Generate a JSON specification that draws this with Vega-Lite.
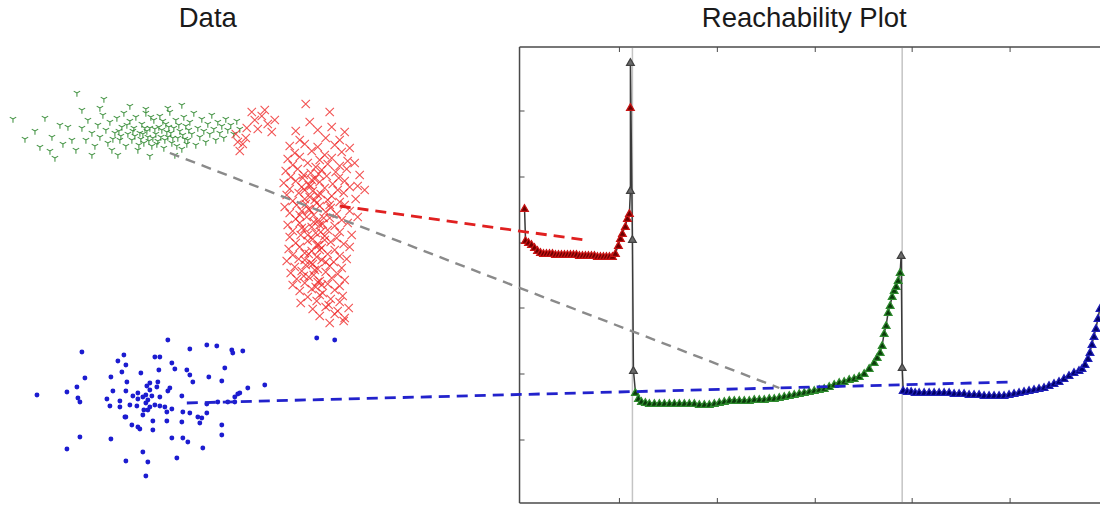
{
"$schema": "https://vega.github.io/schema/vega-lite/v6.json",
"width": 1101, "height": 506, "padding": 0,
"autosize": {"type": "fit", "contains": "padding"},
"config": {"view": {"stroke": null}},
"datasets": {
"frame": [{"x":520,"y":47,"x2":520,"y2":503},{"x":520,"y":47,"x2":1101,"y2":47},{"x":520,"y":503,"x2":1101,"y2":503}],
"ticks": [{"x":520,"y":111,"x2":525,"y2":111},{"x":520,"y":177,"x2":525,"y2":177},{"x":520,"y":243,"x2":525,"y2":243},{"x":520,"y":308,"x2":525,"y2":308},{"x":520,"y":374,"x2":525,"y2":374},{"x":520,"y":440,"x2":525,"y2":440},
{"x":620,"y":503,"x2":620,"y2":498},{"x":718,"y":503,"x2":718,"y2":498},{"x":816,"y":503,"x2":816,"y2":498},{"x":913,"y":503,"x2":913,"y2":498},{"x":1011,"y":503,"x2":1011,"y2":498},
{"x":620,"y":47,"x2":620,"y2":52},{"x":718,"y":47,"x2":718,"y2":52},{"x":816,"y":47,"x2":816,"y2":52},{"x":913,"y":47,"x2":913,"y2":52},{"x":1011,"y":47,"x2":1011,"y2":52}],
"vlines": [{"x":633,"y":48,"y2":502},{"x":903,"y":48,"y2":502}],
"green": [
{"x":82,"y":128},{"x":86,"y":140},{"x":88,"y":120},{"x":92,"y":133},{"x":95,"y":146},{"x":98,"y":125},{"x":100,"y":137},{"x":103,"y":115},{"x":106,"y":130},{"x":108,"y":143},{"x":110,"y":122},{"x":112,"y":150},{"x":115,"y":133},{"x":117,"y":118},{"x":120,"y":140},{"x":122,"y":127},{"x":124,"y":113},{"x":126,"y":146},{"x":128,"y":134},{"x":130,"y":121},{"x":132,"y":140},{"x":134,"y":128},{"x":136,"y":117},{"x":138,"y":150},{"x":140,"y":133},{"x":142,"y":124},{"x":144,"y":143},{"x":146,"y":113},{"x":148,"y":137},{"x":150,"y":128},{"x":152,"y":146},{"x":154,"y":120},{"x":156,"y":134},{"x":158,"y":141},{"x":160,"y":116},{"x":162,"y":130},{"x":164,"y":148},{"x":166,"y":124},{"x":168,"y":137},{"x":170,"y":112},{"x":172,"y":143},{"x":174,"y":128},{"x":176,"y":120},{"x":178,"y":138},{"x":180,"y":131},{"x":182,"y":149},{"x":184,"y":117},{"x":186,"y":126},{"x":188,"y":140},{"x":190,"y":122},{"x":192,"y":134},{"x":194,"y":113},{"x":196,"y":145},{"x":198,"y":128},{"x":200,"y":137},{"x":202,"y":119},{"x":204,"y":131},{"x":206,"y":142},{"x":208,"y":124},{"x":210,"y":134},{"x":212,"y":115},{"x":214,"y":129},{"x":216,"y":140},{"x":218,"y":122},{"x":220,"y":133},{"x":222,"y":126},{"x":224,"y":138},{"x":226,"y":119},{"x":228,"y":130},{"x":231,"y":125},{"x":234,"y":134},{"x":237,"y":121},{"x":240,"y":129},
{"x":135,"y":136},{"x":141,"y":139},{"x":147,"y":131},{"x":153,"y":138},{"x":159,"y":127},{"x":165,"y":140},{"x":171,"y":133},{"x":177,"y":146},{"x":183,"y":135},{"x":189,"y":130},{"x":145,"y":128},{"x":157,"y":144},{"x":163,"y":121},{"x":127,"y":125},{"x":119,"y":131},{"x":113,"y":139},{"x":139,"y":145},{"x":151,"y":117},{"x":169,"y":127},{"x":187,"y":144},
{"x":143,"y":134},{"x":149,"y":141},{"x":155,"y":129},{"x":161,"y":137},{"x":167,"y":132},{"x":173,"y":138},{"x":179,"y":125},{"x":185,"y":139},{"x":133,"y":131},{"x":121,"y":136},
{"x":13,"y":119},{"x":25,"y":139},{"x":35,"y":131},{"x":40,"y":147},{"x":45,"y":118},{"x":52,"y":137},{"x":50,"y":151},{"x":55,"y":158},{"x":60,"y":125},{"x":63,"y":144},{"x":68,"y":127},{"x":72,"y":140},{"x":77,"y":93},{"x":82,"y":110},{"x":100,"y":108},{"x":104,"y":99},{"x":130,"y":106},{"x":146,"y":109},{"x":168,"y":108},{"x":182,"y":105},{"x":76,"y":150},{"x":92,"y":155},{"x":118,"y":155},{"x":150,"y":156},{"x":175,"y":155}
],
"red": [
{"x":236,"y":134},{"x":240,"y":151},{"x":243,"y":144},{"x":247,"y":128},{"x":255,"y":120},{"x":258,"y":129},{"x":265,"y":110},{"x":268,"y":124},{"x":275,"y":120},{"x":262,"y":116},{"x":272,"y":132},{"x":238,"y":142},{"x":246,"y":138},{"x":252,"y":112},
{"x":306,"y":104},{"x":330,"y":112},{"x":332,"y":127},{"x":310,"y":122},{"x":318,"y":130},{"x":300,"y":140},{"x":326,"y":138},{"x":340,"y":140},{"x":296,"y":131},{"x":345,"y":132},
{"x":290,"y":146},{"x":305,"y":144},{"x":318,"y":147},{"x":335,"y":145},{"x":350,"y":148},
{"x":295,"y":153},{"x":312,"y":151},{"x":325,"y":155},{"x":342,"y":152},
{"x":288,"y":159},{"x":300,"y":157},{"x":320,"y":160},{"x":332,"y":158},{"x":348,"y":161},
{"x":293,"y":165},{"x":308,"y":163},{"x":316,"y":167},{"x":328,"y":164},{"x":340,"y":166},{"x":355,"y":163},
{"x":286,"y":171},{"x":298,"y":169},{"x":311,"y":173},{"x":322,"y":170},{"x":336,"y":172},{"x":347,"y":169},
{"x":291,"y":177},{"x":304,"y":175},{"x":315,"y":179},{"x":327,"y":176},{"x":339,"y":178},{"x":360,"y":175},
{"x":284,"y":183},{"x":296,"y":181},{"x":309,"y":185},{"x":320,"y":182},{"x":333,"y":184},{"x":345,"y":181},{"x":358,"y":186},
{"x":290,"y":189},{"x":302,"y":187},{"x":313,"y":191},{"x":325,"y":188},{"x":338,"y":190},{"x":350,"y":187},{"x":365,"y":190},
{"x":287,"y":195},{"x":299,"y":193},{"x":310,"y":197},{"x":321,"y":194},{"x":332,"y":196},{"x":344,"y":193},
{"x":293,"y":201},{"x":305,"y":199},{"x":317,"y":203},{"x":328,"y":200},{"x":340,"y":202},{"x":356,"y":199},
{"x":285,"y":207},{"x":297,"y":205},{"x":309,"y":209},{"x":320,"y":206},{"x":331,"y":208},{"x":345,"y":205},
{"x":290,"y":213},{"x":302,"y":211},{"x":314,"y":215},{"x":326,"y":212},{"x":337,"y":214},{"x":350,"y":211},
{"x":296,"y":219},{"x":307,"y":217},{"x":318,"y":221},{"x":330,"y":218},{"x":342,"y":220},{"x":358,"y":217},
{"x":288,"y":225},{"x":300,"y":223},{"x":312,"y":227},{"x":323,"y":224},{"x":335,"y":226},{"x":348,"y":223},
{"x":293,"y":231},{"x":305,"y":229},{"x":316,"y":233},{"x":328,"y":230},{"x":340,"y":232},
{"x":290,"y":237},{"x":301,"y":235},{"x":313,"y":239},{"x":325,"y":236},{"x":337,"y":238},{"x":352,"y":235},
{"x":296,"y":243},{"x":308,"y":241},{"x":319,"y":245},{"x":331,"y":242},{"x":344,"y":244},
{"x":289,"y":249},{"x":300,"y":247},{"x":312,"y":251},{"x":322,"y":248},{"x":335,"y":250},{"x":350,"y":247},
{"x":293,"y":255},{"x":305,"y":253},{"x":317,"y":257},{"x":328,"y":254},{"x":340,"y":256},
{"x":287,"y":261},{"x":299,"y":259},{"x":311,"y":263},{"x":322,"y":260},{"x":334,"y":262},{"x":347,"y":259},
{"x":295,"y":267},{"x":306,"y":265},{"x":318,"y":269},{"x":330,"y":266},{"x":342,"y":268},
{"x":291,"y":273},{"x":302,"y":271},{"x":314,"y":275},{"x":326,"y":272},{"x":338,"y":274},
{"x":297,"y":279},{"x":309,"y":277},{"x":320,"y":281},{"x":332,"y":278},{"x":345,"y":280},
{"x":293,"y":285},{"x":305,"y":283},{"x":316,"y":287},{"x":328,"y":284},{"x":340,"y":286},
{"x":300,"y":291},{"x":312,"y":289},{"x":323,"y":293},{"x":335,"y":290},
{"x":308,"y":297},{"x":320,"y":295},{"x":331,"y":299},{"x":343,"y":296},
{"x":301,"y":303},{"x":317,"y":301},{"x":329,"y":305},{"x":340,"y":302},
{"x":313,"y":309},{"x":326,"y":307},{"x":338,"y":311},{"x":349,"y":308},
{"x":320,"y":316},{"x":335,"y":314},{"x":345,"y":318},
{"x":330,"y":323},{"x":344,"y":321},
{"x":305,"y":190},{"x":315,"y":200},{"x":310,"y":210},{"x":320,"y":225},{"x":325,"y":240},{"x":305,"y":260},{"x":315,"y":270},{"x":320,"y":250},{"x":300,"y":215},{"x":330,"y":205},{"x":312,"y":180},{"x":318,"y":195},{"x":308,"y":235},{"x":322,"y":285},{"x":317,"y":245},{"x":326,"y":262},
{"x":303,"y":178},{"x":311,"y":186},{"x":319,"y":174},{"x":306,"y":204},{"x":314,"y":222},{"x":302,"y":228},{"x":321,"y":232},{"x":309,"y":254},{"x":313,"y":264},{"x":304,"y":276},{"x":318,"y":282},{"x":324,"y":218}
],
"blue": [
{"x":37,"y":395},{"x":67,"y":392},{"x":77,"y":387},{"x":78,"y":398},{"x":80,"y":402},{"x":85,"y":378},{"x":82,"y":352},{"x":67,"y":449},{"x":80,"y":437},{"x":111,"y":439},{"x":126,"y":461},{"x":146,"y":476},{"x":143,"y":452},{"x":148,"y":462},{"x":177,"y":458},{"x":172,"y":438},{"x":183,"y":438},{"x":188,"y":442},{"x":203,"y":448},{"x":222,"y":435},{"x":222,"y":425},{"x":200,"y":423},{"x":202,"y":418},{"x":207,"y":413},{"x":182,"y":422},{"x":153,"y":421},{"x":132,"y":425},{"x":138,"y":427},{"x":125,"y":417},{"x":168,"y":340},{"x":190,"y":349},{"x":207,"y":345},{"x":217,"y":346},{"x":232,"y":350},{"x":243,"y":351},{"x":233,"y":353},{"x":265,"y":385},{"x":248,"y":388},{"x":238,"y":394},{"x":235,"y":397},{"x":225,"y":368},{"x":222,"y":381},{"x":209,"y":377},{"x":193,"y":382},{"x":190,"y":375},{"x":187,"y":370},{"x":175,"y":369},{"x":172,"y":363},{"x":159,"y":370},{"x":155,"y":357},{"x":160,"y":357},{"x":158,"y":382},{"x":150,"y":383},{"x":147,"y":386},{"x":141,"y":373},{"x":127,"y":382},{"x":126,"y":365},{"x":124,"y":355},{"x":118,"y":361},{"x":122,"y":372},{"x":111,"y":377},{"x":113,"y":391},{"x":107,"y":399},{"x":110,"y":406},{"x":120,"y":401},{"x":126,"y":391},{"x":120,"y":407},{"x":126,"y":417},{"x":130,"y":405},{"x":133,"y":396},{"x":138,"y":399},{"x":137,"y":406},{"x":143,"y":397},{"x":148,"y":400},{"x":152,"y":396},{"x":146,"y":403},{"x":150,"y":407},{"x":144,"y":410},{"x":143,"y":415},{"x":148,"y":410},{"x":155,"y":405},{"x":160,"y":406},{"x":165,"y":407},{"x":167,"y":412},{"x":172,"y":409},{"x":168,"y":391},{"x":170,"y":388},{"x":160,"y":397},{"x":157,"y":387},{"x":150,"y":390},{"x":146,"y":395},{"x":138,"y":393},{"x":182,"y":396},{"x":183,"y":412},{"x":190,"y":413},{"x":198,"y":417},{"x":207,"y":404},{"x":218,"y":402},{"x":228,"y":402},{"x":240,"y":393},{"x":235,"y":402},{"x":140,"y":429},{"x":167,"y":421},{"x":153,"y":430},{"x":317,"y":338},{"x":335,"y":340}
],
"curve": [
{"x":525,"y":208,"c":"r"},{"x":526,"y":240,"c":"r"},{"x":529,"y":242,"c":"r"},{"x":532,"y":244,"c":"r"},{"x":535,"y":247,"c":"r"},{"x":538,"y":250,"c":"r"},{"x":541,"y":252,"c":"r"},{"x":544,"y":253,"c":"r"},{"x":547,"y":253,"c":"r"},{"x":550,"y":253,"c":"r"},{"x":553,"y":253,"c":"r"},{"x":556,"y":254,"c":"r"},{"x":559,"y":254,"c":"r"},{"x":562,"y":254,"c":"r"},{"x":565,"y":254,"c":"r"},{"x":568,"y":254,"c":"r"},{"x":571,"y":254,"c":"r"},{"x":574,"y":254,"c":"r"},{"x":577,"y":254,"c":"r"},{"x":580,"y":255,"c":"r"},{"x":583,"y":255,"c":"r"},{"x":586,"y":255,"c":"r"},{"x":589,"y":255,"c":"r"},{"x":592,"y":255,"c":"r"},{"x":595,"y":255,"c":"r"},{"x":598,"y":256,"c":"r"},{"x":601,"y":256,"c":"r"},{"x":604,"y":256,"c":"r"},{"x":607,"y":256,"c":"r"},{"x":610,"y":256,"c":"r"},{"x":613,"y":256,"c":"r"},{"x":616,"y":253,"c":"r"},{"x":619,"y":245,"c":"r"},{"x":621,"y":238,"c":"r"},{"x":623,"y":233,"c":"r"},{"x":626,"y":226,"c":"r"},{"x":628,"y":218,"c":"r"},{"x":630,"y":213,"c":"r"},{"x":631,"y":190,"c":"k"},{"x":631,"y":107,"c":"r"},{"x":631,"y":62,"c":"k"},{"x":633,"y":239,"c":"k"},{"x":634,"y":370,"c":"k"},
{"x":636,"y":392,"c":"g"},{"x":639,"y":398,"c":"g"},{"x":642,"y":401,"c":"g"},{"x":646,"y":402,"c":"g"},{"x":650,"y":403,"c":"g"},{"x":655,"y":403,"c":"g"},{"x":660,"y":403,"c":"g"},{"x":665,"y":403,"c":"g"},{"x":670,"y":403,"c":"g"},{"x":675,"y":403,"c":"g"},{"x":680,"y":403,"c":"g"},{"x":685,"y":403,"c":"g"},{"x":690,"y":403,"c":"g"},{"x":695,"y":403,"c":"g"},{"x":700,"y":404,"c":"g"},{"x":705,"y":404,"c":"g"},{"x":710,"y":404,"c":"g"},{"x":715,"y":403,"c":"g"},{"x":720,"y":402,"c":"g"},{"x":725,"y":401,"c":"g"},{"x":730,"y":400,"c":"g"},{"x":735,"y":400,"c":"g"},{"x":740,"y":400,"c":"g"},{"x":745,"y":400,"c":"g"},{"x":750,"y":400,"c":"g"},{"x":755,"y":399,"c":"g"},{"x":760,"y":399,"c":"g"},{"x":765,"y":399,"c":"g"},{"x":770,"y":398,"c":"g"},{"x":775,"y":398,"c":"g"},{"x":780,"y":397,"c":"g"},{"x":785,"y":396,"c":"g"},{"x":790,"y":395,"c":"g"},{"x":795,"y":394,"c":"g"},{"x":800,"y":393,"c":"g"},{"x":805,"y":392,"c":"g"},{"x":810,"y":391,"c":"g"},{"x":815,"y":390,"c":"g"},{"x":820,"y":389,"c":"g"},{"x":825,"y":388,"c":"g"},{"x":830,"y":386,"c":"g"},{"x":835,"y":384,"c":"g"},{"x":840,"y":382,"c":"g"},{"x":845,"y":381,"c":"g"},{"x":850,"y":379,"c":"g"},{"x":855,"y":378,"c":"g"},{"x":860,"y":376,"c":"g"},{"x":865,"y":373,"c":"g"},{"x":870,"y":368,"c":"g"},{"x":875,"y":362,"c":"g"},{"x":878,"y":357,"c":"g"},{"x":881,"y":352,"c":"g"},{"x":883,"y":345,"c":"g"},{"x":885,"y":333,"c":"g"},{"x":887,"y":325,"c":"g"},{"x":889,"y":312,"c":"g"},{"x":891,"y":305,"c":"g"},{"x":893,"y":296,"c":"g"},{"x":895,"y":290,"c":"g"},{"x":897,"y":286,"c":"g"},{"x":899,"y":280,"c":"g"},{"x":901,"y":272,"c":"g"},{"x":902,"y":255,"c":"k"},{"x":903,"y":367,"c":"k"},
{"x":904,"y":390,"c":"b"},{"x":908,"y":391,"c":"b"},{"x":912,"y":391,"c":"b"},{"x":916,"y":392,"c":"b"},{"x":920,"y":392,"c":"b"},{"x":925,"y":392,"c":"b"},{"x":930,"y":392,"c":"b"},{"x":935,"y":392,"c":"b"},{"x":940,"y":392,"c":"b"},{"x":945,"y":392,"c":"b"},{"x":950,"y":392,"c":"b"},{"x":955,"y":393,"c":"b"},{"x":960,"y":393,"c":"b"},{"x":965,"y":393,"c":"b"},{"x":970,"y":394,"c":"b"},{"x":975,"y":394,"c":"b"},{"x":980,"y":394,"c":"b"},{"x":985,"y":395,"c":"b"},{"x":990,"y":395,"c":"b"},{"x":995,"y":395,"c":"b"},{"x":1000,"y":395,"c":"b"},{"x":1005,"y":395,"c":"b"},{"x":1010,"y":394,"c":"b"},{"x":1015,"y":393,"c":"b"},{"x":1020,"y":392,"c":"b"},{"x":1025,"y":391,"c":"b"},{"x":1030,"y":390,"c":"b"},{"x":1035,"y":389,"c":"b"},{"x":1040,"y":388,"c":"b"},{"x":1045,"y":387,"c":"b"},{"x":1050,"y":385,"c":"b"},{"x":1055,"y":383,"c":"b"},{"x":1060,"y":381,"c":"b"},{"x":1065,"y":378,"c":"b"},{"x":1070,"y":375,"c":"b"},{"x":1075,"y":372,"c":"b"},{"x":1080,"y":370,"c":"b"},{"x":1083,"y":368,"c":"b"},{"x":1086,"y":364,"c":"b"},{"x":1089,"y":358,"c":"b"},{"x":1091,"y":352,"c":"b"},{"x":1093,"y":344,"c":"b"},{"x":1095,"y":336,"c":"b"},{"x":1097,"y":328,"c":"b"},{"x":1099,"y":318,"c":"b"},{"x":1101,"y":308,"c":"b"}
],
"linkGray": [{"x":170,"y":153},{"x":780,"y":388}],
"linkRed": [{"x":340,"y":206},{"x":585,"y":240}],
"linkBlue": [{"x":187,"y":403},{"x":1012,"y":382}],
"titles": [{"t":"Data","x":208,"y":19},{"t":"Reachability Plot","x":805,"y":19}]
},
"encoding": {
"x": {"field":"x","type":"quantitative","scale":{"domain":[0,1101],"nice":false,"zero":false},"axis":null},
"y": {"field":"y","type":"quantitative","scale":{"domain":[0,506],"nice":false,"zero":false,"reverse":true},"axis":null}
},
"layer": [
{"data":{"name":"vlines"},"mark":{"type":"rule","color":"#c4c4c4","strokeWidth":1.5},"encoding":{"y2":{"field":"y2"}}},
{"data":{"name":"frame"},"mark":{"type":"rule","color":"#4a4a4a","strokeWidth":1.5},"encoding":{"x2":{"field":"x2"},"y2":{"field":"y2"}}},
{"data":{"name":"ticks"},"mark":{"type":"rule","color":"#4a4a4a","strokeWidth":1},"encoding":{"x2":{"field":"x2"},"y2":{"field":"y2"}}},
{"data":{"name":"green"},"mark":{"type":"point","shape":"M0,0L0,1M0,0L-0.87,-0.5M0,0L0.87,-0.5","filled":false,"color":"#2a852a","strokeWidth":1.1,"size":55,"opacity":0.85}},
{"data":{"name":"red"},"mark":{"type":"point","shape":"M-1,-1L1,1M-1,1L1,-1","filled":false,"color":"#f02828","strokeWidth":1.1,"size":70,"opacity":0.8}},
{"data":{"name":"blue"},"mark":{"type":"circle","color":"#1c1cd0","size":24,"opacity":1}},
{"data":{"name":"curve"},"mark":{"type":"line","color":"#3a3a3a","strokeWidth":1.5,"clip":true},"encoding":{"order":{"value":null}}},
{"data":{"name":"curve"},"mark":{"type":"point","shape":"triangle-up","filled":true,"size":60,"strokeWidth":1.2,"opacity":1,"clip":true},
 "encoding":{
  "fill":{"field":"c","type":"nominal","scale":{"domain":["r","g","b","k"],"range":["#6e0000","#0b3a0b","#000068","#6a6a6a"]},"legend":null},
  "stroke":{"field":"c","type":"nominal","scale":{"domain":["r","g","b","k"],"range":["#c81414","#2e8b2e","#2020b8","#404040"]},"legend":null}
 }},
{"data":{"name":"linkGray"},"mark":{"type":"line","color":"#8a8a8a","strokeWidth":2.4,"strokeDash":[10,7]}},
{"data":{"name":"linkRed"},"mark":{"type":"line","color":"#e02020","strokeWidth":2.8,"strokeDash":[11,7]}},
{"data":{"name":"linkBlue"},"mark":{"type":"line","color":"#2222cc","strokeWidth":2.8,"strokeDash":[11,7]}},
{"data":{"name":"titles"},"mark":{"type":"text","font":"Liberation Sans","fontSize":27.5,"color":"#1a1a1a","align":"center","baseline":"middle"},"encoding":{"text":{"field":"t"}}}
]
}
